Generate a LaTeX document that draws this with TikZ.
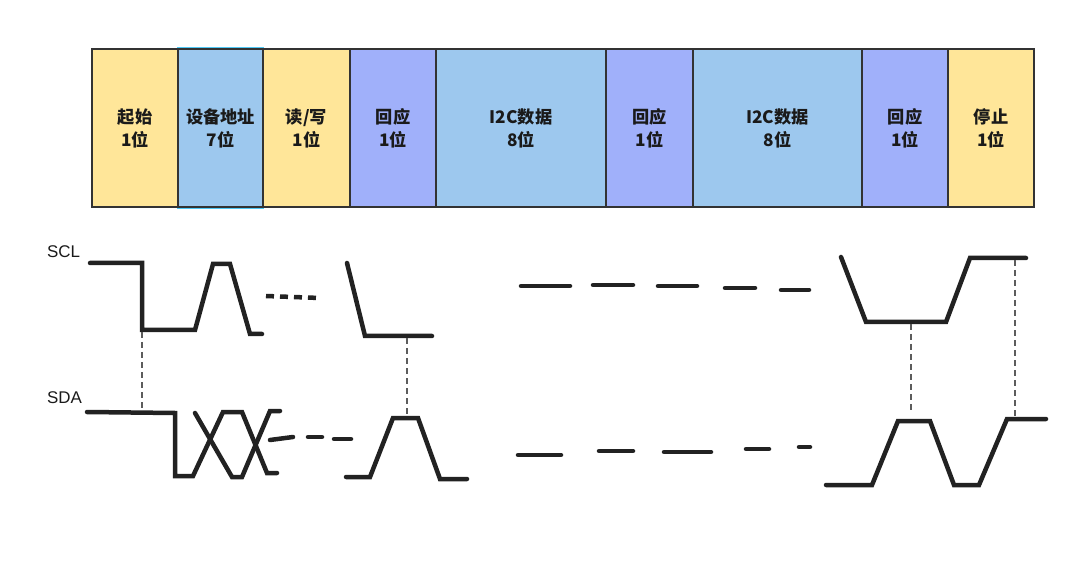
\documentclass[tikz,border=0pt]{standalone}
\usepackage{fontspec}
\setmainfont{Liberation Sans}
\newfontfamily\cjk{Noto Sans CJK SC}
\definecolor{ylw}{HTML}{FFE699}
\definecolor{blu}{HTML}{9DC8EE}
\definecolor{prp}{HTML}{A0B0FA}
\definecolor{bordc}{HTML}{333333}
\definecolor{textc}{HTML}{1A1A1A}
\definecolor{wave}{HTML}{222222}
\definecolor{hilite}{HTML}{4FC8F5}
\begin{document}
\begin{tikzpicture}[x=1bp,y=-1bp,
  box/.style={draw=bordc, line width=1.3bp, minimum height=158bp, inner sep=0pt,
    font=\cjk\bfseries\fontsize{17.3}{23}\selectfont, align=center, text=textc},
  wv/.style={draw=wave, line width=4.5bp, line cap=round, line join=miter},
  gap/.style={draw=wave, line width=4.5bp, line cap=round},
  guide/.style={draw=bordc!80, line width=1.1bp, dash pattern=on 6bp off 4bp},
  lbl/.style={font=\fontsize{17}{20}\selectfont, anchor=base west, inner sep=0pt, text=textc}]
\useasboundingbox (0,0) rectangle (1080,562);
\fill[white] (0,0) rectangle (1080,562);

% frame boxes
\node[box, fill=ylw, minimum width=86bp] (start) at (135,128) {起始\\1位};
\draw[hilite, line width=1bp] (177.5,47.8) rectangle (263.5,208.2);
\node[box, fill=blu, minimum width=85bp] (addr) at (220.5,128) {设备地址\\7位};
\node[box, fill=ylw, minimum width=87bp] (rw) at (306.5,128) {读/写\\1位};
\node[box, fill=prp, minimum width=86bp] (ack1) at (393,128) {回应\\1位};
\node[box, fill=blu, minimum width=170bp] (data1) at (521,128) {I2C数据\\8位};
\node[box, fill=prp, minimum width=87bp] (ack2) at (649.5,128) {回应\\1位};
\node[box, fill=blu, minimum width=169bp] (data2) at (777.5,128) {I2C数据\\8位};
\node[box, fill=prp, minimum width=86bp] (ack3) at (905,128) {回应\\1位};
\node[box, fill=ylw, minimum width=86bp] (stop) at (991,128) {停止\\1位};

% labels
\node[lbl] (scl) at (47,258) {SCL};
\node[lbl] (sda) at (47,403) {SDA};

% SCL waveform
\draw[wv] (90,263) -- (142,263) -- (142,330) -- (195,330) -- (213,264) -- (230,264) -- (250,334) -- (262,334);
\draw[wave, line width=4.5bp, dash pattern=on 8bp off 6bp] (266,296) -- (320,298);
\draw[wv] (347,263) -- (365,336) -- (432,336);
\draw[gap] (521,286) -- (570,286);
\draw[gap] (593,285) -- (633,285);
\draw[gap] (658,286) -- (697,286);
\draw[gap] (725,288) -- (755,288);
\draw[gap] (781,290) -- (809,290);
\draw[wv] (841,257) -- (866,322) -- (946,322) -- (970,258) -- (1026,258);

% SDA waveform
\draw[wv] (87,412) -- (175,413) -- (175,476) -- (193,476) -- (223,412) -- (242,412) -- (267,473) -- (277,473);
\draw[wv] (195,413) -- (232,477) -- (242,477) -- (270,411) -- (280,411);
\draw[gap] (270,440) -- (293,437);
\draw[gap] (308,437) -- (322,437);
\draw[gap] (334,439) -- (351,439);
\draw[wv] (346,477) -- (370,477) -- (393,418) -- (418,418) -- (440,479) -- (467,479);
\draw[gap] (518,455) -- (561,455);
\draw[gap] (599,451) -- (633,451);
\draw[gap] (664,452) -- (711,452);
\draw[gap] (746,449) -- (769,449);
\draw[gap] (799,447) -- (810,447);
\draw[wv] (826,485) -- (872,485) -- (898,421) -- (930,421) -- (954,485) -- (979,485) -- (1007,419) -- (1046,419);

% alignment guides
\coordinate (g1a) at (142,332);
\coordinate (g1b) at (142,411);
\coordinate (g2a) at (407,338);
\coordinate (g2b) at (407,416);
\coordinate (g3a) at (911,324);
\coordinate (g3b) at (911,414);
\coordinate (g4a) at (1015,260);
\coordinate (g4b) at (1015,416);
\draw[guide] (g1a) -- (g1b);
\draw[guide] (g2a) -- (g2b);
\draw[guide] (g3a) -- (g3b);
\draw[guide] (g4a) -- (g4b);
\end{tikzpicture}
\end{document}
